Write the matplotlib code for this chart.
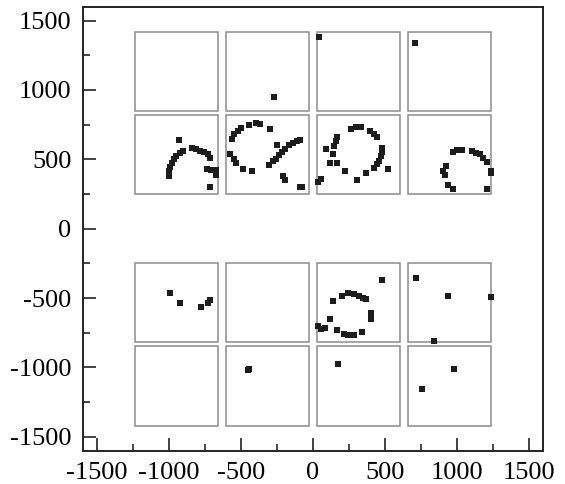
import matplotlib
matplotlib.use("Agg")
import matplotlib.pyplot as plt
from matplotlib.patches import Rectangle
from matplotlib.ticker import MultipleLocator

plt.rcParams['font.family'] = ['Liberation Serif', 'DejaVu Serif']
plt.rcParams['axes.unicode_minus'] = False

# grid of sub-regions (data coords)
col_edges = [(-1240, -660), (-605, -25), (25, 605), (660, 1240)]
row_edges = [(850, 1420), (250, 820), (-820, -245), (-1420, -845)]

# detected points
pts_x = [
    # upper-left arc group
    -934, -906, -927, -950, -969, -983, -992, -999, -999,
    -839, -811, -783, -755, -732, -718, -737, -709, -672, -676, -713,
    # second panel, row 2
    -560, -546, -523, -500, -448, -393, -369, -300,
    -579, -548, -532, -486, -425,
    -309, -281, -258, -239, -216, -193, -165, -142, -114, -90, -253,
    -211, -193, -90, -76,
    # third panel, row 2
    263, 298, 333, 393, 426, 444, 477, 477, 472, 460, 444, 426, 523,
    165, 158, 147, 89, 142, 119, 170, 221, 305, 367, 54, 35,
    # fourth panel, row 2
    970, 997, 1032, 1102, 1132, 1160, 1183, 1211, 1235, 1235, 1211,
    923, 904, 916, 939, 970,
    # row 1 singles
    -269, 44, 707,
    # row 3
    -992, -927, -778, -732, -713,
    477, 142, 198, 240, 286, 321, 344, 367, 402, 402, 337, 286, 244, 212,
    165, 119, 35, 54, 82,
    714, 939, 1235, 839,
    # row 4
    -455, -445, 177, 979, 756,
]
pts_y = [
    639, 560, 543, 524, 500, 476, 447, 416, 380,
    579, 572, 563, 553, 538, 512, 433, 421, 421, 389, 303,
    649, 680, 707, 726, 750, 760, 753, 716,
    536, 500, 476, 433, 416,
    457, 488, 505, 529, 553, 577, 601, 620, 632, 639, 603,
    380, 351, 303, 303,
    721, 736, 736, 704, 680, 664, 584, 553, 524, 488, 464, 440, 433,
    664, 632, 596, 572, 536, 471, 471, 416, 351, 404, 356, 336,
    553, 567, 567, 560, 548, 536, 512, 481, 416, 399, 288,
    452, 416, 385, 312, 284,
    952, 1385, 1337,
    -467, -539, -563, -532, -515,
    -371, -520, -484, -467, -472, -484, -500, -508, -611, -652, -741, -765, -765, -760,
    -731, -652, -700, -724, -717,
    -356, -484, -491, -813,
    -1020, -1010, -972, -1010, -1155,
]

fig = plt.figure(figsize=(5.65, 4.84), dpi=100)
ax = fig.add_axes([0.1464, 0.0688, 0.8152, 0.9174])

for x0, x1 in col_edges:
    for y0, y1 in row_edges:
        ax.add_patch(Rectangle((x0, y0), x1 - x0, y1 - y0, fill=False,
                               edgecolor='#8c8c8c', linewidth=1.1, zorder=1))

ax.plot(pts_x, pts_y, 's', color='#1c1c1c', markersize=4.7,
        markeredgewidth=0, zorder=3)

ax.set_xlim(-1600, 1600)
ax.set_ylim(-1600, 1600)
ax.xaxis.set_major_locator(MultipleLocator(500))
ax.yaxis.set_major_locator(MultipleLocator(500))
ax.xaxis.set_minor_locator(MultipleLocator(250))
ax.yaxis.set_minor_locator(MultipleLocator(250))
ax.tick_params(which='both', direction='in', top=False, right=False,
               width=1.1, color='#111111', labelsize=19)
ax.tick_params(which='major', length=9.5, pad=8)
ax.tick_params(which='minor', length=5)

for s in ax.spines.values():
    s.set_linewidth(1.4)
    s.set_color('#222222')

fig.savefig('out.png', dpi=100)
